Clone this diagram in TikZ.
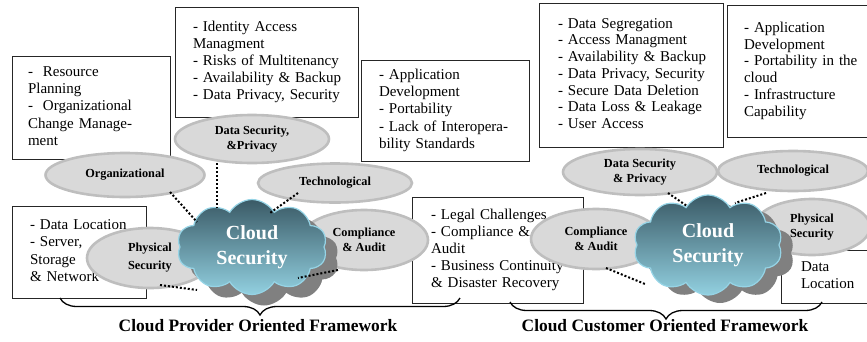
\documentclass[tikz,border=0pt]{standalone}
\usepackage{fontspec}
\setmainfont{Liberation Serif}
\usetikzlibrary{shapes.symbols,shapes.geometric,decorations.pathreplacing,calc}
\definecolor{ellfill}{RGB}{217,217,217}
\definecolor{elledge}{RGB}{190,190,190}
\definecolor{cloudtop}{RGB}{58,90,102}
\definecolor{cloudbot}{RGB}{146,208,224}
\definecolor{cloudedge}{RGB}{150,212,230}
\definecolor{shadowgray}{RGB}{128,128,128}
\newcommand{\boxlines}[1]{\begin{tabular}{@{}l@{}}#1\end{tabular}}
\tikzset{
  boxnode/.style={draw=black!85, line width=0.8pt, rectangle, align=left,
    inner ysep=0pt, font=\fontsize{15}{17.2}\selectfont},
  ell/.style={ellipse, draw=elledge, line width=2.6pt, fill=ellfill, inner sep=0pt,
    align=center, font=\bfseries\fontsize{12.3}{15}\selectfont},
  cloudbase/.style={cloud, cloud puffs=10, cloud puff arc=120, aspect=1.55,
    inner sep=0pt, align=center, font=\bfseries\fontsize{20}{25}\selectfont},
  cloudmain/.style={cloudbase, top color=cloudtop, bottom color=cloudbot,
    draw=cloudedge, line width=1.2pt, text=white},
  cloudshadow/.style={cloudbase, fill=shadowgray, draw=none},
  dotline/.style={line width=2pt, dash pattern=on 2pt off 2pt, black},
  bracepath/.style={line width=1.3pt, decorate,
    decoration={brace, mirror, amplitude=17pt}},
  framelabel/.style={font=\bfseries\fontsize{17.4}{20}\selectfont, inner sep=0pt}
}
\begin{document}
\begin{tikzpicture}[x=1pt, y=-1pt]
\useasboundingbox (0,0) rectangle (867,341);

% ---------- text boxes ----------
\node[boxnode, inner xsep=16pt, minimum width=158pt, minimum height=103pt, text width=126pt]
  (bOrg) at (91,107.5) {\boxlines{-~\ Resource\\Planning\\-~\ Organizational\\Change Manage-\\ment}};
\node[boxnode, inner xsep=18pt, minimum width=183pt, minimum height=110pt, text width=147pt]
  (bDSL) at (266.5,62) {\boxlines{- Identity Access\\Managment\\- Risks of Multitenancy\\- Availability \& Backup\\- Data Privacy, Security}};
\node[boxnode, inner xsep=18pt, minimum width=168pt, minimum height=101pt, text width=132pt]
  (bTechL) at (445,110.5) {\boxlines{- Application\\Development\\- Portability\\- Lack of Interopera-\\bility Standards}};
\node[boxnode, inner xsep=18pt, minimum width=134pt, minimum height=92pt, text width=98pt]
  (bLocL) at (79,252) {\boxlines{- Data Location\\- Server,\\Storage\\\& Network}};
\node[boxnode, inner xsep=19pt, minimum width=171pt, minimum height=106pt, text width=133pt]
  (bLegal) at (497.5,250) {\boxlines{- Legal Challenges\\- Compliance \&\\Audit\\- Business Continuity\\\& Disaster Recovery}};
\node[boxnode, font=\fontsize{15}{16.7}\selectfont, inner xsep=19pt, minimum width=184pt, minimum height=144pt, text width=146pt]
  (bDSR) at (631,75) {\boxlines{- Data Segregation\\- Access Managment\\- Availability \& Backup\\- Data Privacy, Security\\- Secure Data Deletion\\- Data Loss \& Leakage\\- User Access}};
\node[boxnode, font=\fontsize{15}{16.8}\selectfont, inner xsep=17pt, minimum width=163pt, minimum height=132pt, text width=129pt]
  (bTechR) at (808.5,71) {\boxlines{- Application\\Development\\- Portability in the\\cloud\\- Infrastructure\\Capability}};
\node[boxnode, inner xsep=20pt, minimum width=109pt, minimum height=53pt, text width=69pt]
  (bLocR) at (835.5,276.5) {\boxlines{Data\\Location}};

% ---------- ellipses ----------
\node[ell, minimum width=154pt, minimum height=48pt] (eDSL) at (252,139) {Data Security,\\\&Privacy};
\node[ell, minimum width=159pt, minimum height=44pt] (eOrg) at (125,175) {Organizational};
\node[ell, minimum width=154pt, minimum height=39pt] (eTechL) at (335,183) {Technological};
\node[ell, minimum width=128pt, minimum height=60pt] (eCompL) at (364,240) {Compliance\\\& Audit};
\node[ell, minimum width=126pt, minimum height=60pt, font=\bfseries\fontsize{12.3}{18}\selectfont] (ePhysL) at (150,258) {Physical\\Security};

\node[ell, minimum width=154pt, minimum height=46pt] (eDSR) at (640,172) {Data Security\\\& Privacy};
\node[ell, minimum width=150pt, minimum height=40pt] (eTechR) at (793,171) {Technological};
\node[ell, minimum width=130pt, minimum height=60pt] (eCompR) at (596,239) {Compliance\\\& Audit};
\node[ell, minimum width=116pt, minimum height=56pt] (ePhysR) at (812,227) {Physical\\Security};

% ---------- clouds ----------
\node[cloudshadow, minimum width=150pt, minimum height=95pt] (c1s) at (264,258) {\phantom{Cloud}\\\phantom{Security}};
\node[cloudmain, minimum width=150pt, minimum height=95pt] (c1) at (252,247) {Cloud\\Security};
\node[cloudshadow, minimum width=149pt, minimum height=100pt] (c2s) at (720,253) {\phantom{Cloud}\\\phantom{Security}};
\node[cloudmain, minimum width=149pt, minimum height=100pt] (c2) at (708,245) {Cloud\\Security};

% ---------- dotted connectors ----------
\draw[dotline] ($(eOrg.center)+(45,17)$) -- ($(c1.center)+(-55,-25)$);
\draw[dotline] ($(eDSL.center)+(-35,24)$) -- ($(c1.center)+(-35,-39)$);
\draw[dotline] ($(eTechL.center)+(-37,10)$) -- ($(c1.center)+(18,-34)$);
\draw[dotline] ($(eCompL.center)+(-26,30)$) -- ($(c1.center)+(46,31)$);
\draw[dotline] ($(ePhysL.center)+(10,27)$) -- ($(c1.center)+(-55,43)$);

\draw[dotline] ($(eDSR.center)+(28,21)$) -- ($(c2.center)+(-21,-39)$);
\draw[dotline] ($(eTechR.center)+(-27,22)$) -- ($(c2.center)+(27,-42)$);
\draw[dotline] ($(eCompR.center)+(10,29)$) -- ($(c2.center)+(-63,39)$);

% ---------- braces ----------
\coordinate (bl1) at (60,298);
\coordinate (bl2) at (460,298);
\coordinate (br1) at (510,302);
\coordinate (br2) at (822,302);
\draw[bracepath] (bl1) -- (bl2);
\draw[bracepath] (br1) -- (br2);
\node[framelabel] (lProv) at (258,326) {Cloud Provider Oriented Framework};
\node[framelabel] (lCust) at (665,326) {Cloud Customer Oriented Framework};
\end{tikzpicture}
\end{document}
